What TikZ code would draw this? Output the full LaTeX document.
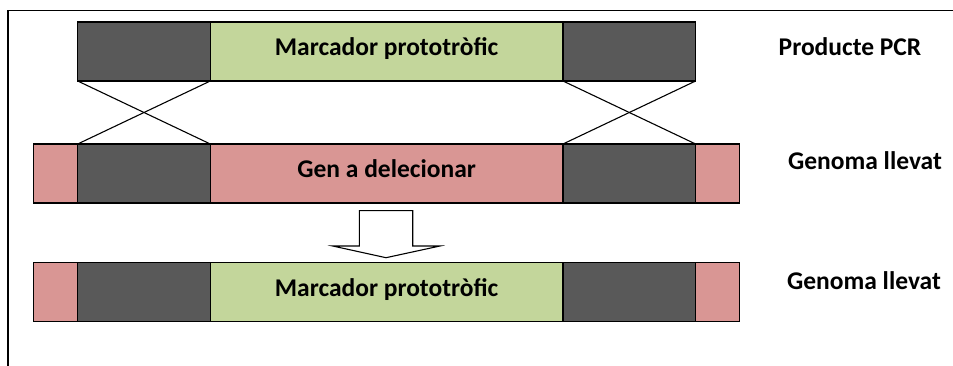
\documentclass[tikz,border=0pt]{standalone}
\usepackage{fontspec}
\setmainfont{Carlito}
\begin{document}
\begin{tikzpicture}[x=1pt,y=-1pt,
  seg/.style={draw=black,line width=1.1pt,inner sep=0pt,outer sep=0pt,anchor=north west,
    minimum height=59pt,text height=14pt,text depth=6pt,
    font=\fontsize{25.5}{30}\selectfont\bfseries},
  flank/.style={seg,fill=flankgray,minimum width=132.6pt},
  marker/.style={seg,fill=markergreen,minimum width=352.7pt},
  gene/.style={seg,fill=genepink,minimum width=352.7pt},
  edge/.style={seg,fill=genepink,minimum width=44pt},
  cross/.style={draw=black,line width=1.1pt},
  label/.style={font=\fontsize{25.5}{30}\selectfont\bfseries}]
\definecolor{flankgray}{HTML}{595959}
\definecolor{markergreen}{HTML}{C3D69B}
\definecolor{genepink}{HTML}{D99694}
\useasboundingbox (0,0) rectangle (953,366);
% outer frame (top and left sides only)
\draw[line width=1.1pt] (8,366) -- (8,10.5) -- (953,10.5);

% PCR product
\node[flank]  (pL) at (77.7,22) {};
\node[marker] (pM) at (pL.north east) {Marcador prototròfic};
\node[flank]  (pR) at (pM.north east) {};

% yeast genome before recombination
\node[edge]   (gE1) at (33.7,144) {};
\node[flank]  (gL) at (gE1.north east) {};
\node[gene]   (gM) at (gL.north east) {Gen a delecionar};
\node[flank]  (gR) at (gM.north east) {};
\node[edge]   (gE2) at (gR.north east) {};

% yeast genome after recombination
\node[edge]   (rE1) at (33.7,262.5) {};
\node[flank]  (rL) at (rE1.north east) {};
\node[marker] (rM) at (rL.north east) {Marcador prototròfic};
\node[flank]  (rR) at (rM.north east) {};
\node[edge]   (rE2) at (rR.north east) {};

% crossover lines
\draw[cross] (pL.south west) -- (gL.north east);
\draw[cross] (pL.south east) -- (gL.north west);
\draw[cross] (pR.south west) -- (gR.north east);
\draw[cross] (pR.south east) -- (gR.north west);

% block arrow
\coordinate (ar) at (386,210.7);
\draw[line width=1.1pt,fill=white] (ar) ++(-26.7,0) -- ++(0,35.3) -- ++(-26.6,0)
  -- (386,257.7) -- (440,246) -- (412.7,246) -- (412.7,210.7) -- cycle;

% row labels
\node[label] (lp) at (850,47) {Producte PCR};
\node[label] (lg) at (865,161) {Genoma llevat};
\node[label] (lr) at (864,281) {Genoma llevat};
\end{tikzpicture}
\end{document}
